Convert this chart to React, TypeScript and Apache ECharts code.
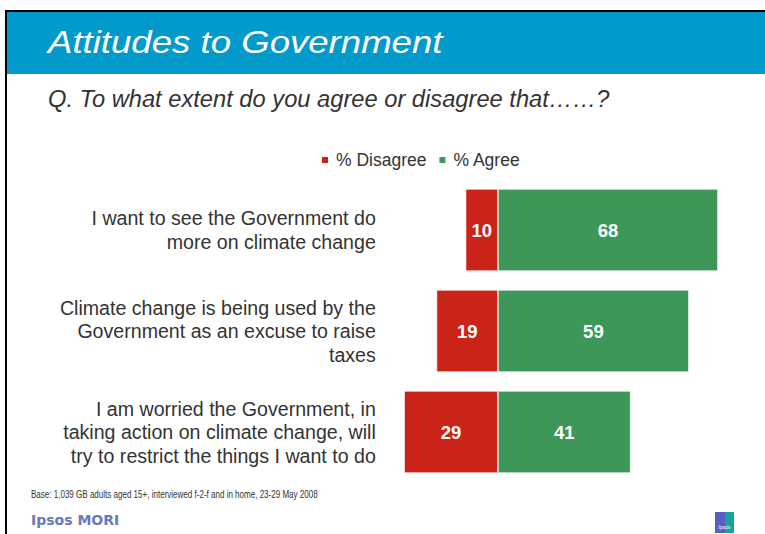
import React, { useEffect, useRef } from "react";
import * as echarts from "echarts";

const categories = [
  "I want to see the Government do\nmore on climate change",
  "Climate change is being used by the\nGovernment as an excuse to raise\ntaxes",
  "I am worried the Government, in\ntaking action on climate change, will\ntry to restrict the things I want to do",
];
const disagree = [10, 19, 29];
const agree = [68, 59, 41];
const seriesNames = ["% Disagree", "% Agree"];

const RED = "#CC2318";
const GREEN = "#3D9759";

export default function App() {
  const ref = useRef<HTMLDivElement>(null);
  useEffect(() => {
    if (!ref.current) return;
    const chart = echarts.init(ref.current, null, { renderer: "svg" });
    const font = "'Liberation Sans', Arial, sans-serif";
    chart.setOption({
      animation: false,
      textStyle: { fontFamily: font },
      legend: {
        left: 315,
        top: 146,
        itemWidth: 8,
        itemHeight: 8,
        itemGap: 11,
        icon: "rect",
        data: seriesNames,
        textStyle: { fontSize: 17.5, color: "#333", fontFamily: font, padding: [0, 0, 0, 2] },
      },
      grid: { left: 384.8, top: 179.5, width: 370.3, height: 303, containLabel: false },
      xAxis: {
        type: "value",
        min: -35,
        max: 79.5,
        show: false,
      },
      yAxis: {
        type: "category",
        data: categories,
        inverse: true,
        axisLine: { show: false },
        axisTick: { show: false },
        splitLine: { show: false },
        axisLabel: {
          margin: 9,
          fontSize: 19.6,
          lineHeight: 23.5,
          color: "#333",
          align: "right",
          fontFamily: font,
          padding: [3, 0, 0, 0],
        },
      },
      series: [
        {
          name: seriesNames[0],
          type: "bar",
          stack: "a",
          barWidth: 82,
          data: disagree.map((v) => -v),
          itemStyle: { color: RED, borderColor: "#fff", borderWidth: 0.6 },
          label: {
            show: true,
            position: "inside",
            formatter: (p: any) => String(Math.abs(p.value)),
            color: "#fff",
            fontWeight: "bold",
            fontSize: 18.5,
            fontFamily: font,
          },
        },
        {
          name: seriesNames[1],
          type: "bar",
          stack: "a",
          barWidth: 82,
          data: agree,
          itemStyle: { color: GREEN, borderColor: "#fff", borderWidth: 0.6 },
          label: {
            show: true,
            position: "inside",
            color: "#fff",
            fontWeight: "bold",
            fontSize: 18.5,
            fontFamily: font,
          },
        },
      ],
      graphic: [
        { type: "rect", shape: { x: 5, y: 10, width: 760, height: 2 }, style: { fill: "#000" } },
        { type: "rect", shape: { x: 5, y: 10, width: 2, height: 524 }, style: { fill: "#000" } },
        { type: "rect", shape: { x: 7, y: 12, width: 758, height: 62 }, style: { fill: "#0299CB" } },
        {
          type: "text",
          x: 48,
          y: 43,
          scaleX: 1.2,
          style: {
            text: "Attitudes to Government",
            fill: "#fff",
            font: `italic 30.5px ${font}`,
            verticalAlign: "middle",
          },
        },
        {
          type: "text",
          x: 48,
          y: 99,
          style: {
            text: "Q. To what extent do you agree or disagree that\u2026\u2026?",
            fill: "#333",
            font: `italic 23.7px ${font}`,
            verticalAlign: "middle",
          },
        },
        {
          type: "text",
          x: 31,
          y: 494,
          scaleX: 0.73,
          style: {
            text: "Base: 1,039 GB adults aged 15+, interviewed f-2-f and in home, 23-29 May 2008",
            fill: "#333",
            font: `11px ${font}`,
            verticalAlign: "middle",
          },
        },
        {
          type: "text",
          x: 31,
          y: 520,
          style: {
            text: "Ipsos MORI",
            fill: "#6A78B8",
            font: `bold 14px 'DejaVu Sans', sans-serif`,
            verticalAlign: "middle",
          },
        },
        { type: "rect", shape: { x: 715, y: 512, width: 10, height: 21 }, style: { fill: "#5A5EC2" } },
        { type: "rect", shape: { x: 725, y: 512, width: 9, height: 21 }, style: { fill: "#17A39A" } },
        {
          type: "text",
          x: 724.5,
          y: 527,
          style: {
            text: "Ipsos",
            fill: "#fff",
            font: `5px ${font}`,
            align: "center",
            verticalAlign: "middle",
          },
        },
      ],
    });
    return () => chart.dispose();
  }, []);
  return (
    <div
      ref={ref}
      style={{ position: "absolute", left: 0, top: 0, width: 765, height: 534, background: "#fff" }}
    />
  );
}
